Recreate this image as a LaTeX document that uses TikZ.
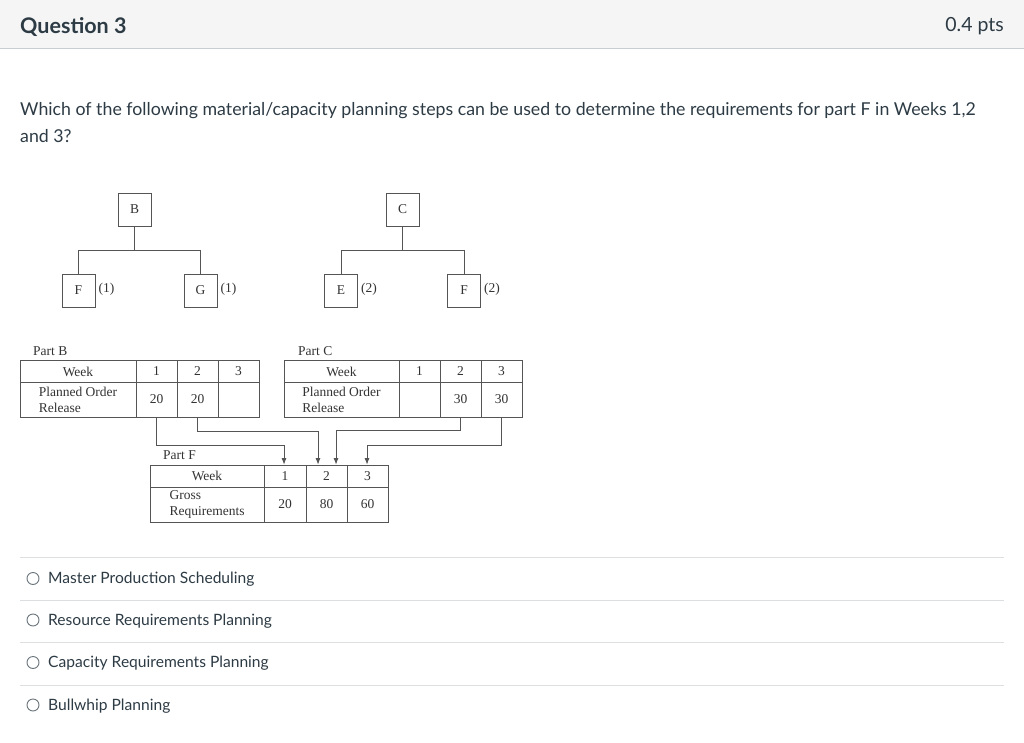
\documentclass[tikz,border=0pt]{standalone}
\usepackage{fontspec}
\setmainfont{Lato}
\newfontfamily\serif{Liberation Serif}
\usetikzlibrary{arrows.meta}
\definecolor{ink}{HTML}{2D3B45}
\definecolor{hdr}{HTML}{F5F5F5}
\definecolor{hdrline}{HTML}{C7CDD1}
\definecolor{sepline}{HTML}{DCDFE2}
\definecolor{dline}{HTML}{555555}
\definecolor{dtext}{HTML}{333333}
\begin{document}
\begin{tikzpicture}[x=1pt,y=-1pt,
  dfont/.style={font=\serif\fontsize{13.5}{16}\selectfont, text=dtext},
  pbox/.style={draw=dline, line width=0.8pt, minimum size=33pt, inner sep=0pt, dfont},
  qty/.style={anchor=west, inner sep=0pt, dfont},
  cell/.style={draw=dline, line width=0.8pt, inner sep=0pt, dfont, align=left},
  r1/.style={minimum height=21.5pt},
  r2/.style={minimum height=35pt},
  cw/.style={minimum width=41pt},
  tree/.style={draw=dline, line width=0.8pt},
  arr/.style={draw=dline, line width=0.8pt, -{Latex[length=6.5pt,width=5pt]}},
  body/.style={anchor=base west, inner sep=0pt, text=ink},
  ans/.style={body, font=\fontsize{15.6}{18}\selectfont},
  radio/.style={draw=ink!70, line width=0.9pt, circle, minimum size=12pt, inner sep=0pt}
]
\useasboundingbox (0,0) rectangle (1024,743);
\fill[white] (0,0) rectangle (1024,743);
% header
\fill[hdr] (0,0) rectangle (1024,48);
\draw[hdrline, line width=1.2pt] (0,48.6) -- (1024,48.6);
\node[body, font=\fontsize{21.5}{24}\selectfont\bfseries] (title) at (20,33.5) {Question 3};
\node[anchor=base east, inner sep=0pt, text=ink, font=\fontsize{19.5}{22}\selectfont] (pts) at (1004,32) {0.4 pts};
% question
\node[body, font=\fontsize{17.75}{27}\selectfont, align=left] (q) at (20,142.5) {Which of the following material/capacity planning steps can be used to determine the requirements for part F in Weeks 1,2\\and 3?};
% product tree B
\node[pbox] (B) at (134.5,209.5) {B};
\node[pbox] (F1) at (78.5,290.5) {F};
\node[pbox] (G) at (200.5,290.5) {G};
\node[qty] (qF1) at ([xshift=3pt,yshift=1pt]F1.east) {(1)};
\node[qty] (qG) at ([xshift=3pt,yshift=1pt]G.east) {(1)};
\draw[tree] (B.south) -- ++(0,24) -| (F1.north);
\draw[tree] (B.south) -- ++(0,24) -| (G.north);
% product tree C
\node[pbox] (C) at (402.5,209.5) {C};
\node[pbox] (E) at (341,290.5) {E};
\node[pbox] (F2) at (464,290.5) {F};
\node[qty] (qE) at ([xshift=3pt,yshift=1pt]E.east) {(2)};
\node[qty] (qF2) at ([xshift=3pt,yshift=1pt]F2.east) {(2)};
\draw[tree] (C.south) -- ++(0,24) -| (E.north);
\draw[tree] (C.south) -- ++(0,24) -| (F2.north);
% Part B table
\node[qty] (lblB) at (33,351) {Part B};
\node[cell, r1, minimum width=116pt] (bwk) at (78,371.5) {Week};
\node[cell, r1, cw] (bw1) at (156.5,371.5) {1};
\node[cell, r1, cw] (bw2) at (197.5,371.5) {2};
\node[cell, r1, cw] (bw3) at (238.5,371.5) {3};
\node[cell, r2, minimum width=116pt] (bpl) at (78,399.5) {Planned Order\\Release};
\node[cell, r2, cw] (bp1) at (156.5,399.5) {20};
\node[cell, r2, cw] (bp2) at (197.5,399.5) {20};
\node[cell, r2, cw] (bp3) at (238.5,399.5) {};
% Part C table
\node[qty] (lblC) at (298,351) {Part C};
\node[cell, r1, minimum width=115pt] (cwk) at (341.5,371.5) {Week};
\node[cell, r1, cw] (cw1) at (419.5,371.5) {1};
\node[cell, r1, cw] (cw2) at (460.5,371.5) {2};
\node[cell, r1, cw] (cw3) at (501.5,371.5) {3};
\node[cell, r2, minimum width=115pt] (cpl) at (341.5,399.5) {Planned Order\\Release};
\node[cell, r2, cw] (cp1) at (419.5,399.5) {};
\node[cell, r2, cw] (cp2) at (460.5,399.5) {30};
\node[cell, r2, cw] (cp3) at (501.5,399.5) {30};
% Part F table
\node[qty] (lblF) at (163,455) {Part F};
\node[cell, minimum height=22pt, minimum width=114pt] (fwk) at (207,476) {Week};
\node[cell, minimum height=22pt, minimum width=42pt] (fw1) at (285,476) {1};
\node[cell, minimum height=22pt, cw] (fw2) at (326.5,476) {2};
\node[cell, minimum height=22pt, cw] (fw3) at (367.5,476) {3};
\node[cell, minimum height=35pt, minimum width=114pt] (fgr) at (207,504.5) {Gross\\Requirements};
\node[cell, minimum height=35pt, minimum width=42pt] (fg1) at (285,504.5) {20};
\node[cell, minimum height=35pt, cw] (fg2) at (326.5,504.5) {80};
\node[cell, minimum height=35pt, cw] (fg3) at (367.5,504.5) {60};
% connectors
\draw[arr] (bp1.south) -- ++(0,28) -| ([xshift=-1pt]fw1.north);
\draw[arr] (bp2.south) -- ++(0,14) -| ([xshift=-8.5pt]fw2.north);
\draw[arr] (cp2.south) -- ++(0,13) -| ([xshift=9.5pt]fw2.north);
\draw[arr] (cp3.south) -- ++(0,28) -| ([xshift=-0.5pt]fw3.north);
% answers
\draw[sepline, line width=1pt] (20,557.5) -- (1004,557.5);
\draw[sepline, line width=1pt] (20,600.5) -- (1004,600.5);
\draw[sepline, line width=1pt] (20,642.5) -- (1004,642.5);
\draw[sepline, line width=1pt] (20,685) -- (1004,685);
\node[radio] (o1) at (33,578.5) {};
\node[radio] (o2) at (33,620) {};
\node[radio] (o3) at (33,662.5) {};
\node[radio] (o4) at (33,705) {};
\node[ans] (a1) at (48,583.5) {Master Production Scheduling};
\node[ans] (a2) at (48,625) {Resource Requirements Planning};
\node[ans] (a3) at (48,667.5) {Capacity Requirements Planning};
\node[ans] (a4) at (48,710) {Bullwhip Planning};
\end{tikzpicture}
\end{document}
